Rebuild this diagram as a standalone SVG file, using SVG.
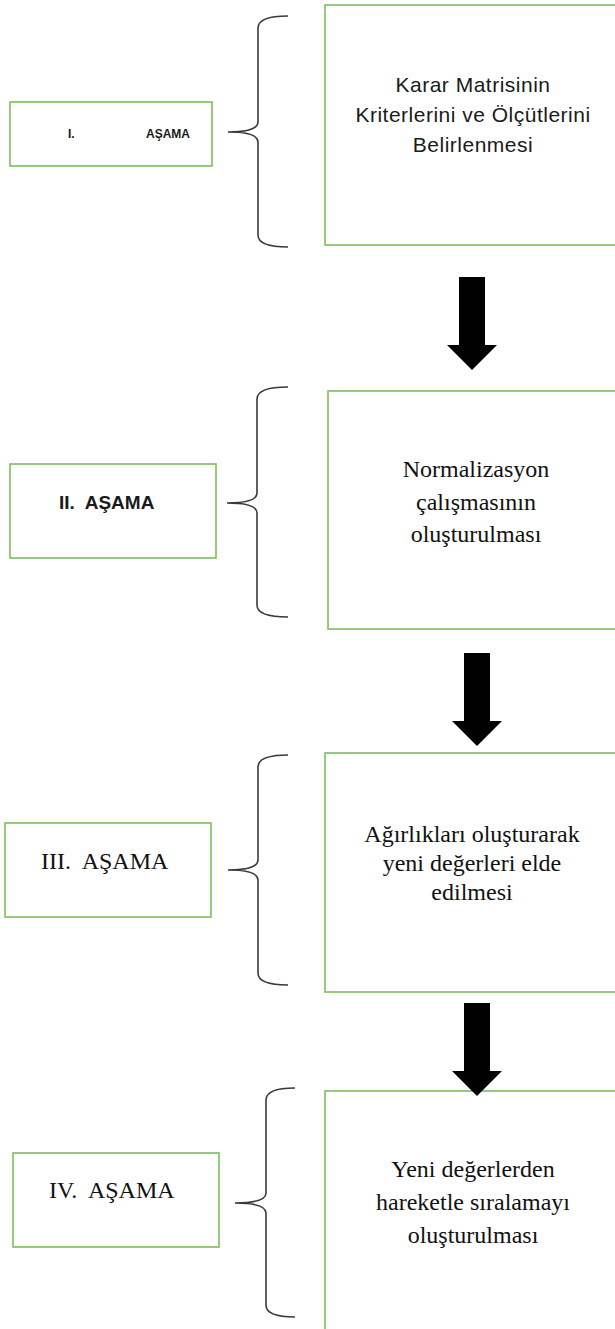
<svg xmlns="http://www.w3.org/2000/svg" width="615" height="1329" viewBox="0 0 615 1329">
<style>
.box{fill:#fff;stroke:#7DBE5C;stroke-width:1.6}
.brace{fill:none;stroke:#3a3a3a;stroke-width:1.6}
.arrow{fill:#000}
.sans{font-family:"Liberation Sans",Arial,sans-serif;fill:#1a1a1a}
.serif{font-family:"Liberation Serif","Times New Roman",serif;font-size:24px;fill:#111}
.mid{text-anchor:middle}
</style>
<rect width="615" height="1329" fill="#fff"/>
<g id="stage1">
<rect class="box" x="10" y="102" width="202" height="64"/>
<text class="sans" x="68" y="138" font-size="12" font-weight="bold" fill="#444">I.</text>
<text class="sans" x="146" y="138" font-size="12" font-weight="bold" fill="#444">AŞAMA</text>
</g>
<g id="step1">
<rect class="box" x="325" y="5" width="300" height="240"/>
<text class="sans mid" font-size="21" letter-spacing="0.5"><tspan x="473" y="92">Karar Matrisinin</tspan><tspan x="473" y="122">Kriterlerini ve Ölçütlerini</tspan><tspan x="473" y="152">Belirlenmesi</tspan></text>
</g>
<g id="stage2">
<rect class="box" x="10" y="464" width="206" height="94"/>
<text class="sans" x="59" y="509" font-size="19" font-weight="bold" xml:space="preserve">II.  AŞAMA</text>
</g>
<g id="step2">
<rect class="box" x="328" y="391" width="300" height="238"/>
<text class="serif mid"><tspan x="476" y="477">Normalizasyon</tspan><tspan x="476" y="510">çalışmasının</tspan><tspan x="476" y="542">oluşturulması</tspan></text>
</g>
<g id="stage3">
<rect class="box" x="5" y="823" width="206" height="94"/>
<text class="serif" x="41" y="869" xml:space="preserve">III.  AŞAMA</text>
</g>
<g id="step3">
<rect class="box" x="325" y="753" width="300" height="239"/>
<text class="serif mid"><tspan x="472" y="842">Ağırlıkları oluşturarak</tspan><tspan x="472" y="871">yeni değerleri elde</tspan><tspan x="472" y="900">edilmesi</tspan></text>
</g>
<g id="stage4">
<rect class="box" x="13" y="1153" width="206" height="94"/>
<text class="serif" x="49" y="1198" xml:space="preserve">IV.  AŞAMA</text>
</g>
<g id="step4">
<rect class="box" x="325" y="1091" width="300" height="250"/>
<text class="serif mid"><tspan x="473" y="1177">Yeni değerlerden</tspan><tspan x="473" y="1210">hareketle sıralamayı</tspan><tspan x="473" y="1243">oluşturulması</tspan></text>
</g>
<g id="connectors">
<path class="brace" d="M288,16 Q258,16 258,28 L258,122 Q258,132 228,132 Q258,132 258,142 L258,235 Q258,247 288,247"/>
<path class="brace" d="M288,387 Q257,387 257,399 L257,493 Q257,503 227,503 Q257,503 257,513 L257,605 Q257,617 288,617"/>
<path class="brace" d="M288,755 Q258,755 258,767 L258,860 Q258,870 228,870 Q258,870 258,880 L258,973 Q258,985 288,985"/>
<path class="brace" d="M295,1088 Q266,1088 266,1100 L266,1193 Q266,1203 235,1203 Q266,1203 266,1213 L266,1305 Q266,1317 295,1317"/>
<polygon class="arrow" points="459,277 485,277 485,345 497,345 472,370 447,345 459,345"/>
<polygon class="arrow" points="464,653 490,653 490,721 502,721 477,746 452,721 464,721"/>
<polygon class="arrow" points="464,1003 490,1003 490,1071 502,1071 477,1096 452,1071 464,1071"/>
</g>
</svg>
